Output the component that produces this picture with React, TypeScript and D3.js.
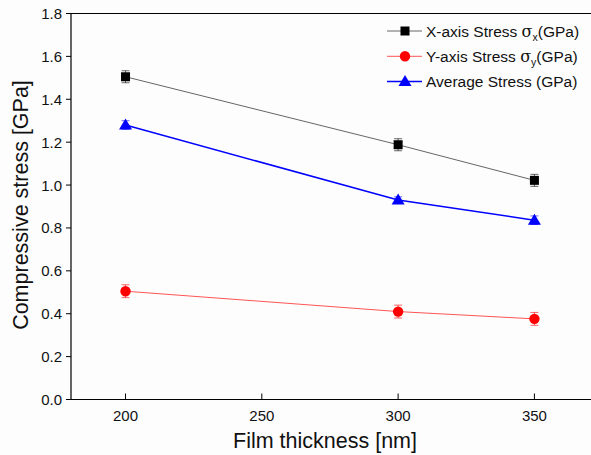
import React from "react";
import * as d3 from "d3";

const thickness = [200, 300, 350];
const xStress = [1.505, 1.188, 1.022];
const yStress = [0.505, 0.41, 0.376];
const avgStress = [1.28, 0.93, 0.836];
const xErr = [0.028, 0.028, 0.028];
const yErr = [0.03, 0.03, 0.03];
const avgErr = [0.02, 0.015, 0.02];
const xTicks = [200, 250, 300, 350];
const yTicks = [0, 0.2, 0.4, 0.6, 0.8, 1.0, 1.2, 1.4, 1.6, 1.8];

const W = 591, H = 455;
const left = 71, top = 13.5, bottom = 399.5;

export default function App() {
  const x = d3.scaleLinear().domain([180, 370]).range([left, left + 190 * 2.726]);
  const y = d3.scaleLinear().domain([0, 1.8]).range([bottom, top]);
  const line = d3.line<[number, number]>().x(d => x(d[0])).y(d => y(d[1]));
  const font = "'Liberation Sans', Arial, sans-serif";

  const series = [
    { vals: xStress, err: xErr, color: "#000", lineColor: "#666", lw: 1, shape: "square" },
    { vals: yStress, err: yErr, color: "#ff0000", lineColor: "#ff5555", lw: 1, shape: "circle" },
    { vals: avgStress, err: avgErr, color: "#0000ff", lineColor: "#0000ff", lw: 1.5, shape: "triangle" },
  ];

  const marker = (shape: string, cx: number, cy: number, color: string, key?: any) => {
    if (shape === "square") return <rect key={key} x={cx - 4.5} y={cy - 4.5} width={9} height={9} fill={color} />;
    if (shape === "circle") return <circle key={key} cx={cx} cy={cy} r={5.2} fill={color} />;
    return <path key={key} d={`M${cx},${cy - 6.5}L${cx + 6.5},${cy + 4.5}L${cx - 6.5},${cy + 4.5}Z`} fill={color} />;
  };

  const legend = [
    { label: "X-axis Stress ", sub: "x", rest: "(GPa)", s: series[0] },
    { label: "Y-axis Stress ", sub: "y", rest: "(GPa)", s: series[1] },
    { label: "Average Stress (GPa)", sub: "", rest: "", s: series[2] },
  ];

  return (
    <svg width={W} height={H} style={{ position: "absolute", left: 0, top: 0, background: "#fdfdfd", fontFamily: font }}>
      {/* frame */}
      <path d={`M${W + 5},${top}H${left}V${bottom}H${W + 5}`} fill="none" stroke="#000" strokeWidth={1.2} />
      {yTicks.map(t => (
        <g key={t}>
          <line x1={left - 5} x2={left} y1={y(t)} y2={y(t)} stroke="#000" />
          <text x={left - 9} y={y(t) + 5.5} textAnchor="end" fontSize={15} fill="#111">{t.toFixed(1)}</text>
        </g>
      ))}
      {xTicks.map(t => (
        <g key={t}>
          <line x1={x(t)} x2={x(t)} y1={bottom} y2={bottom - 6} stroke="#000" />
          <text x={x(t)} y={bottom + 21} textAnchor="middle" fontSize={15} fill="#111">{t}</text>
        </g>
      ))}
      <text x={325} y={448} textAnchor="middle" fontSize={21.5} fill="#111">Film thickness [nm]</text>
      <text transform={`translate(28,205) rotate(-90)`} textAnchor="middle" fontSize={21.5} fill="#111">Compressive stress [GPa]</text>
      {series.map((s, i) => (
        <g key={i}>
          <path d={line(thickness.map((t, j) => [t, s.vals[j]] as [number, number])) || ""} fill="none" stroke={s.lineColor} strokeWidth={s.lw} />
          {thickness.map((t, j) => (
            <g key={j}>
              <line x1={x(t)} x2={x(t)} y1={y(s.vals[j] - s.err[j])} y2={y(s.vals[j] + s.err[j])} stroke={s.color} strokeOpacity={0.6} />
              <line x1={x(t) - 4} x2={x(t) + 4} y1={y(s.vals[j] - s.err[j])} y2={y(s.vals[j] - s.err[j])} stroke={s.color} strokeOpacity={0.6} />
              <line x1={x(t) - 4} x2={x(t) + 4} y1={y(s.vals[j] + s.err[j])} y2={y(s.vals[j] + s.err[j])} stroke={s.color} strokeOpacity={0.6} />
              {marker(s.shape, x(t), y(s.vals[j]), s.color)}
            </g>
          ))}
        </g>
      ))}
      {legend.map((l, i) => {
        const ly = 31 + i * 25.3;
        return (
          <g key={i}>
            <line x1={387} x2={422} y1={ly} y2={ly} stroke={l.s.lineColor} strokeWidth={l.s.lw} />
            {marker(l.s.shape, 405, ly, l.s.color)}
            <text x={426} y={ly + 5.5} fontSize={15.5} fill="#111">
              {l.label}
              {l.sub && <tspan fontFamily="'DejaVu Serif', serif" fontSize={16}>σ</tspan>}
              {l.sub && <tspan fontSize={10.5} dy={4}>{l.sub}</tspan>}
              {l.sub && <tspan dy={-4}>{l.rest}</tspan>}
            </text>
          </g>
        );
      })}
    </svg>
  );
}
